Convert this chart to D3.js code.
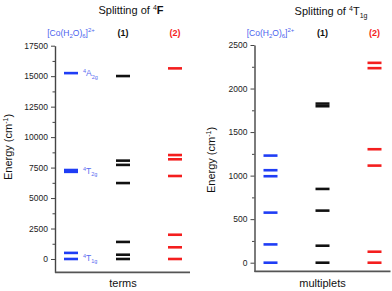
<!doctype html>
<html>
<head>
<style>
    body { margin: 0; background: #fff; }
    svg { font-family: "Liberation Sans", Arial, sans-serif; }
    .axis path, .axis line { stroke: #444; }
    .axis text { fill: #222; font-size: 8.5px; }
</style>
<script src="https://d3js.org/d3.v7.min.js"></script>
</head>
<body>
<svg width="392" height="291"></svg>
<script>
    // columns (complexes)
    var columns = ["Co", "1", "2"];
    var colColors = {"Co": "#1f3df5", "1": "#111", "2": "#f41e1e"};

    // splitting of 4F (terms), cm-1
    var termsCo = [0, 500, 7150, 7300, 15250];
    var terms1 = [0, 350, 1400, 6230, 7720, 8070, 15010];
    var terms2 = [0, 960, 1990, 6810, 8180, 8530, 15640];
    var termTicks = [0, 2500, 5000, 7500, 10000, 12500, 15000, 17500];
    var termLabels = [
        {value: 15250, name: "A", sub: "2g"},
        {value: 7220, name: "T", sub: "2g"},
        {value: 100, name: "T", sub: "1g"}
    ];

    // splitting of 4T1g (multiplets), cm-1
    var multCo = [0, 210, 575, 993, 1062, 1230];
    var mult1 = [0, 195, 598, 847, 1797, 1827];
    var mult2 = [0, 126, 1115, 1303, 2234, 2295];
    var multTicks = [0, 500, 1000, 1500, 2000, 2500];

    var svg = d3.select("svg");

    function panel(opts) {
        var g = svg.append("g").attr("transform", "translate(" + opts.left + ",0)");
        var x = d3.scalePoint().domain(columns).range([16, 120]);
        var y = d3.scaleLinear().domain(opts.domain).range(opts.range);

        // minor ticks
        var minor = [];
        for (var v = 0; v <= opts.ticks[opts.ticks.length - 1]; v += opts.step / 2) {
            if (opts.ticks.indexOf(v) < 0) minor.push(v);
        }
        g.append("g").attr("class", "axis")
         .call(d3.axisLeft(y).tickValues(minor).tickSize(2.5).tickSizeOuter(0).tickFormat(""))
         .select(".domain").remove();

        var ya = g.append("g").attr("class", "axis")
         .call(d3.axisLeft(y).tickValues(opts.ticks).tickSize(4).tickSizeOuter(0)
             .tickPadding(3).tickFormat(d3.format("d")));
        ya.select(".domain").attr("stroke-width", 1.4);

        // bottom axis line
        g.append("line")
         .attr("x1", 0).attr("x2", opts.width)
         .attr("y1", y(opts.domain[0])).attr("y2", y(opts.domain[0]))
         .attr("stroke", "#555").attr("stroke-width", 1.6);

        // levels
        var series = [["Co", opts.data[0]], ["1", opts.data[1]], ["2", opts.data[2]]];
        series.forEach(function(s) {
            g.selectAll(null)
             .data(s[1])
             .enter().append("line")
             .attr("x1", x(s[0]) - 7).attr("x2", x(s[0]) + 7)
             .attr("y1", function(d) { return y(d); })
             .attr("y2", function(d) { return y(d); })
             .attr("stroke", colColors[s[0]])
             .attr("stroke-width", 2.6);
        });

        // column headers
        var hy = 36;
        var co = g.append("text").attr("x", x("Co")).attr("y", hy)
         .attr("text-anchor", "middle").attr("font-size", 8.5).attr("fill", "#4a62ee");
        co.append("tspan").text("[Co(H");
        co.append("tspan").attr("font-size", 6).attr("dy", 2).text("2");
        co.append("tspan").attr("dy", -2).text("O)");
        co.append("tspan").attr("font-size", 6).attr("dy", 2).text("6");
        co.append("tspan").attr("dy", -2).text("]");
        co.append("tspan").attr("font-size", 6).attr("dy", -4).text("2+");

        g.append("text").attr("x", x("1")).attr("y", hy).attr("text-anchor", "middle")
         .attr("font-size", 9).attr("font-weight", "bold").attr("fill", "#111").text("(1)");
        g.append("text").attr("x", x("2")).attr("y", hy).attr("text-anchor", "middle")
         .attr("font-size", 9).attr("font-weight", "bold").attr("fill", "#f41e1e").text("(2)");

        // y label
        var yl = g.append("text")
         .attr("transform", "translate(" + opts.ylabelX + "," + opts.ylabelY + ") rotate(-90)")
         .attr("text-anchor", "middle").attr("font-size", 11).attr("fill", "#111");
        yl.append("tspan").text("Energy (cm");
        yl.append("tspan").attr("font-size", 7).attr("dy", -4).text("-1");
        yl.append("tspan").attr("dy", 4).text(")");

        // x label
        g.append("text").attr("x", 68).attr("y", 287).attr("text-anchor", "middle")
         .attr("font-size", 11).attr("fill", "#111").text(opts.xlabel);

        return {g: g, x: x, y: y};
    }

    var left = panel({
        left: 55, width: 135, domain: [-1100, 17500], range: [272.4, 45.7],
        ticks: termTicks, step: 2500, data: [termsCo, terms1, terms2],
        ylabelX: -43, ylabelY: 147, xlabel: "terms"
    });
    var right = panel({
        left: 254.5, width: 136, domain: [-100, 2500], range: [271.4, 45],
        ticks: multTicks, step: 500, data: [multCo, mult1, mult2],
        ylabelX: -40, ylabelY: 160, xlabel: "multiplets"
    });

    // term labels
    termLabels.forEach(function(t) {
        var tx = left.g.append("text")
         .attr("x", left.x("Co") + 12).attr("y", left.y(t.value) + 3)
         .attr("font-size", 8.5).attr("fill", "#5a6cf0");
        tx.append("tspan").attr("font-size", 5.5).attr("dy", -3).text("4");
        tx.append("tspan").attr("dy", 3).text(t.name);
        tx.append("tspan").attr("font-size", 5.5).attr("dy", 2.5).text(t.sub);
    });

    // titles
    var t1 = svg.append("text").attr("x", 131).attr("y", 14).attr("text-anchor", "middle")
     .attr("font-size", 11).attr("fill", "#111");
    t1.append("tspan").text("Splitting of ");
    t1.append("tspan").attr("font-size", 7).attr("dy", -4).text("4");
    t1.append("tspan").attr("dy", 4).attr("font-weight", "bold").text("F");

    var t2 = svg.append("text").attr("x", 331).attr("y", 15).attr("text-anchor", "middle")
     .attr("font-size", 11).attr("fill", "#111");
    t2.append("tspan").text("Splitting of ");
    t2.append("tspan").attr("font-size", 7).attr("dy", -4).text("4");
    t2.append("tspan").attr("dy", 4).text("T");
    t2.append("tspan").attr("font-size", 7).attr("dy", 3).text("1g");
</script>
</body>
</html>
